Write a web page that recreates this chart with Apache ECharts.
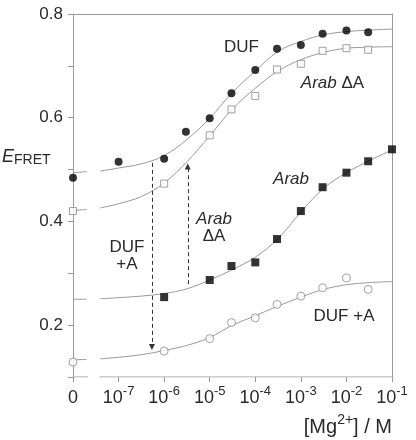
<!DOCTYPE html>
<html>
<head>
<meta charset="utf-8">
<script src="https://cdn.jsdelivr.net/npm/echarts@6/dist/echarts.min.js"></script>
<style>html,body{margin:0;padding:0;background:#fff}#c{width:416px;height:440px}</style>
</head>
<body>
<div id="c"></div>
<script>
// ---- data (concentration in M; 0 = no Mg2+) ----
var DUF_X   = [0, 1e-7, 1e-6, 3e-6, 1e-5, 3e-5, 1e-4, 3e-4, 1e-3, 3e-3, 1e-2, 3e-2];
var DUF_Y   = [0.484, 0.515, 0.521, 0.573, 0.599, 0.647, 0.692, 0.733, 0.740, 0.762, 0.768, 0.765];
var ARABDA_X = [0, 1e-6, 1e-5, 3e-5, 1e-4, 3e-4, 1e-3, 3e-3, 1e-2, 3e-2];
var ARABDA_Y = [0.420, 0.473, 0.566, 0.616, 0.642, 0.693, 0.704, 0.729, 0.734, 0.731];
var ARAB_X  = [1e-6, 1e-5, 3e-5, 1e-4, 3e-4, 1e-3, 3e-3, 1e-2, 3e-2, 1e-1];
var ARAB_Y  = [0.254, 0.287, 0.314, 0.321, 0.366, 0.420, 0.466, 0.494, 0.516, 0.539];
var DUFA_X  = [0, 1e-6, 1e-5, 3e-5, 1e-4, 3e-4, 1e-3, 3e-3, 1e-2, 3e-2];
var DUFA_Y  = [0.129, 0.150, 0.174, 0.205, 0.214, 0.240, 0.256, 0.272, 0.291, 0.269];

// fitted curves, at log10 positions (-8 = the "0" column)
var FIT_EXP    = [-8, -7.7, -7.4, -7, -6.5, -6, -5.5, -5, -4.5, -4, -3.5, -3, -2.5, -2, -1.5, -1];
var FIT_DUF    = [0.494, 0.496, 0.497, 0.503, 0.511, 0.527, 0.558, 0.599, 0.649, 0.690, 0.728, 0.747, 0.760, 0.766, 0.769, 0.771];
var FIT_ARABDA = [0.421, 0.423, 0.426, 0.434, 0.448, 0.474, 0.515, 0.565, 0.617, 0.657, 0.690, 0.712, 0.726, 0.734, 0.736, 0.737];
var FIT_ARAB   = [0.250, 0.250, 0.251, 0.253, 0.256, 0.261, 0.270, 0.287, 0.307, 0.331, 0.367, 0.418, 0.464, 0.494, 0.517, 0.538];
var FIT_DUFA   = [0.133, 0.134, 0.135, 0.138, 0.143, 0.151, 0.161, 0.176, 0.200, 0.218, 0.237, 0.254, 0.269, 0.278, 0.282, 0.284];

var X_TICK_EXP = [-8, -7, -6, -5, -4, -3, -2, -1];
var Y_LABELS = [0.2, 0.4, 0.6, 0.8];
var ZERO_AT = 1e-8;           // where [Mg2+] = 0 is drawn
var BREAK = [-7.67, -7.42];   // axis break (log10 units)

// arrows: [x (M), from, to]
var ARROW_DUFA   = [5.4e-7, 0.513, 0.158];
var ARROW_ARABDA = [3.3e-6, 0.279, 0.506];

function pos(x) { return x === 0 ? ZERO_AT : x; }
function pts(xs, ys) { return xs.map(function (x, i) { return [pos(x), ys[i]]; }); }
function curve(ys) {
  var d = [];
  FIT_EXP.forEach(function (e, i) {
    if (i > 0 && FIT_EXP[i - 1] < BREAK[0] && e > BREAK[1]) d.push([Math.pow(10, (BREAK[0] + BREAK[1]) / 2), '-']);
    d.push([Math.pow(10, e), ys[i]]);
  });
  return d;
}
var AX = '#9a9a9a', TXT = '#2a2a2a', FONT = 'Liberation Sans';

function fitSeries(ys) {
  return { type: 'line', data: curve(ys), showSymbol: false, symbol: 'none', smooth: 0.35,
    lineStyle: { color: AX, width: 1 }, silent: true, z: 2, connectNulls: false };
}
function arrow(a) {
  return [{ coord: [a[0], a[1]], symbol: 'none' }, { coord: [a[0], a[2]] }];
}

var chart = echarts.init(document.getElementById('c'), null, { renderer: 'canvas' });
chart.setOption({
  animation: false,
  textStyle: { fontFamily: FONT },
  grid: { left: 73, right: 24, top: 14, bottom: 63, containLabel: false, outerBoundsMode: 'none' },
  xAxis: [{
    type: 'log', logBase: 10, min: ZERO_AT, max: 0.1,
    axisLine: { show: false },
    axisTick: { show: true, length: 5, lineStyle: { color: AX } },
    splitLine: { show: false },
    axisLabel: {
      margin: 8, color: TXT, fontSize: 18, fontFamily: FONT,
      formatter: function (v) {
        var e = Math.round(Math.log10(v));
        if (X_TICK_EXP.indexOf(e) < 0) return '';
        return e === -8 ? '{n|0}' : '{n|10}{s|' + e + '}';
      },
      rich: {
        n: { fontSize: 18, lineHeight: 22, verticalAlign: 'bottom', color: TXT, fontFamily: FONT },
        s: { fontSize: 13, lineHeight: 22, verticalAlign: 'top', color: TXT, fontFamily: FONT }
      }
    }
  }, {
    type: 'log', logBase: 10, min: ZERO_AT, max: 0.1, position: 'top',
    axisLine: { show: true, lineStyle: { color: AX } },
    axisTick: { show: false }, axisLabel: { show: false }, splitLine: { show: false }
  }],
  yAxis: [{
    type: 'value', min: 0.1, max: 0.8, interval: 0.1,
    axisLine: { show: true, lineStyle: { color: AX } },
    axisTick: { show: true, length: 5, lineStyle: { color: AX } },
    splitLine: { show: false },
    axisLabel: {
      margin: 10, color: TXT, fontSize: 17, fontFamily: FONT,
      formatter: function (v) {
        for (var i = 0; i < Y_LABELS.length; i++) if (Math.abs(v - Y_LABELS[i]) < 1e-6) return Y_LABELS[i].toFixed(1);
        return '';
      }
    }
  }, {
    type: 'value', min: 0.1, max: 0.8, position: 'right',
    axisLine: { show: true, lineStyle: { color: AX } },
    axisTick: { show: false }, axisLabel: { show: false }, splitLine: { show: false }
  }],
  series: [
    // broken x-axis baseline
    { type: 'line', silent: true, symbol: 'none', z: 1,
      data: [[ZERO_AT, 0.1], [Math.pow(10, BREAK[0]), 0.1], [Math.pow(10, (BREAK[0] + BREAK[1]) / 2), '-'], [Math.pow(10, BREAK[1]), 0.1], [0.1, 0.1]],
      lineStyle: { color: AX, width: 1 } },
    fitSeries(FIT_DUF), fitSeries(FIT_ARABDA), fitSeries(FIT_ARAB), fitSeries(FIT_DUFA),
    { type: 'scatter', name: 'DUF', data: pts(DUF_X, DUF_Y), symbol: 'circle', symbolSize: 8,
      itemStyle: { color: '#000' }, z: 5 },
    { type: 'scatter', name: 'Arab ΔA', data: pts(ARABDA_X, ARABDA_Y), symbol: 'rect', symbolSize: 7,
      itemStyle: { color: '#fff', borderColor: '#8a8a8a', borderWidth: 1 }, z: 5 },
    { type: 'scatter', name: 'Arab', data: pts(ARAB_X, ARAB_Y), symbol: 'rect', symbolSize: 8,
      itemStyle: { color: '#000' }, z: 5 },
    { type: 'scatter', name: 'DUF +A', data: pts(DUFA_X, DUFA_Y), symbol: 'circle', symbolSize: 8,
      itemStyle: { color: '#fff', borderColor: '#8a8a8a', borderWidth: 1 }, z: 5 },
    { type: 'scatter', data: [], silent: true,
      markLine: {
        silent: true, symbol: ['none', 'triangle'], symbolSize: 6,
        label: { show: false },
        lineStyle: { color: '#333', width: 1, type: [4, 3] },
        itemStyle: { color: '#333' },
        data: [arrow(ARROW_DUFA), arrow(ARROW_ARABDA)]
      } }
  ],
  graphic: [
    { type: 'text', x: 241.5, y: 47.5, style: { text: 'DUF', font: '17px ' + FONT, fill: TXT, align: 'center', verticalAlign: 'middle' } },
    { type: 'text', x: 332.5, y: 83, style: { text: '{i|Arab} ΔA', font: '17px ' + FONT, fill: TXT, align: 'center', verticalAlign: 'middle',
      rich: { i: { fontStyle: 'italic', fontSize: 17, fontFamily: FONT, fill: TXT } } } },
    { type: 'text', x: 291, y: 179, style: { text: 'Arab', font: 'italic 17px ' + FONT, fill: TXT, align: 'center', verticalAlign: 'middle' } },
    { type: 'text', x: 214, y: 227.5, style: { text: '{i|Arab}\nΔA', font: '17px ' + FONT, fill: TXT, align: 'center', verticalAlign: 'middle', lineHeight: 17,
      rich: { i: { fontStyle: 'italic', fontSize: 17, fontFamily: FONT, fill: TXT, lineHeight: 17 } } } },
    { type: 'text', x: 127, y: 255.5, style: { text: 'DUF\n+A', font: '17px ' + FONT, fill: TXT, align: 'center', verticalAlign: 'middle', lineHeight: 17 } },
    { type: 'text', x: 344, y: 316.5, style: { text: 'DUF +A', font: '17px ' + FONT, fill: TXT, align: 'center', verticalAlign: 'middle' } },
    { type: 'text', x: 2, y: 157, style: { text: 'E', font: 'italic 18px ' + FONT, fill: TXT, align: 'left', verticalAlign: 'middle' } },
    { type: 'text', x: 14, y: 160, style: { text: 'FRET', font: '14px ' + FONT, fill: TXT, align: 'left', verticalAlign: 'middle' } },
    { type: 'text', x: 392, y: 425, style: { text: '{n|[Mg}{s|2+}{n|] / M}', fill: TXT, align: 'right', verticalAlign: 'middle',
      rich: {
        n: { fontSize: 20, lineHeight: 24, verticalAlign: 'bottom', fontFamily: FONT, fill: TXT },
        s: { fontSize: 14, lineHeight: 24, verticalAlign: 'top', fontFamily: FONT, fill: TXT }
      } } }
  ]
});
</script>
</body>
</html>
